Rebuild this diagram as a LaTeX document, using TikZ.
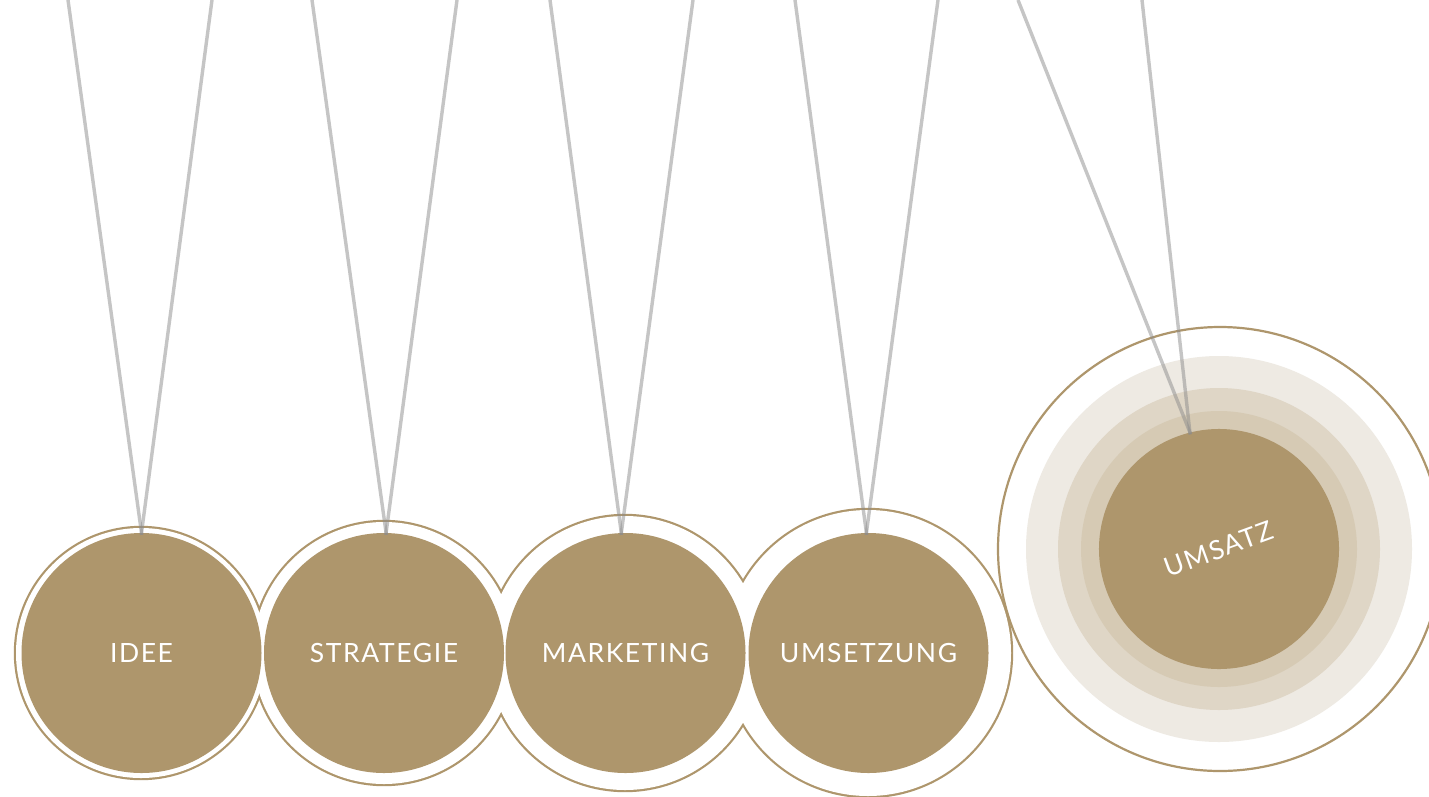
\documentclass[tikz,border=0pt]{standalone}
\usepackage{fontspec}
\setmainfont{Lato}[LetterSpace=6]
\definecolor{gold}{RGB}{174,150,108}
\definecolor{ringA}{RGB}{238,234,227}
\definecolor{ringB}{RGB}{223,214,198}
\definecolor{ringC}{RGB}{214,202,180}
\definecolor{stringc}{RGB}{140,140,140}
\begin{document}
\begin{tikzpicture}[x=1pt,y=-1pt,
  ball/.style={circle, fill=gold, minimum size=240pt, inner sep=0pt, text=white,
    font=\fontsize{26.5}{26.5}\selectfont},
  string/.style={draw=stringc, draw opacity=0.5, line width=3.4pt, shorten >=-2pt}]
\fill[white] (0,0) rectangle (1429,796);
\useasboundingbox (0,0) rectangle (1429,796);
% union outline of the four outer rings
\foreach \x/\r in {141/125, 384/131, 625/137, 868/143}
  \draw[gold, line width=4.4pt] (\x,653) circle[radius=\r];
\foreach \x/\r in {141/125, 384/131, 625/137, 868/143}
  \fill[white] (\x,653) circle[radius=\r];
% UMSATZ halo
\fill[ringA] (1219,549) circle[radius=193];
\fill[ringB] (1219,549) circle[radius=161];
\fill[ringC] (1219,549) circle[radius=138];
\draw[gold, line width=2.2pt] (1220,549) circle[radius=222];
% balls
\node[ball] (idee) at (141.5,653) {IDEE};
\node[ball] (strategie) at (384,653) {STRATEGIE};
\node[ball] (marketing) at (625.5,653) {MARKETING};
\node[ball] (umsetzung) at (868.5,653) {UMSETZUNG};
\node[ball, rotate=20] (umsatz) at (1219,549) {UMSATZ};
% string tops
\coordinate (i1) at (68,0);   \coordinate (i2) at (212,0);
\coordinate (s1) at (312,0);  \coordinate (s2) at (457,0);
\coordinate (m1) at (550,0);  \coordinate (m2) at (693,0);
\coordinate (u1) at (795,0);  \coordinate (u2) at (938,0);
\coordinate (z1) at (1018,0); \coordinate (z2) at (1142,0);
% strings
\draw[string] (i1) -- (idee.north);
\draw[string] (i2) -- (idee.north);
\draw[string] (s1) -- (strategie.89);
\draw[string] (s2) -- (strategie.89);
\draw[string] (m1) -- (marketing.92);
\draw[string] (m2) -- (marketing.92);
\draw[string] (u1) -- (umsetzung.91);
\draw[string] (u2) -- (umsetzung.91);
\draw[string] (z1) -- (umsatz.84);
\draw[string] (z2) -- (umsatz.84);
\end{tikzpicture}
\end{document}
